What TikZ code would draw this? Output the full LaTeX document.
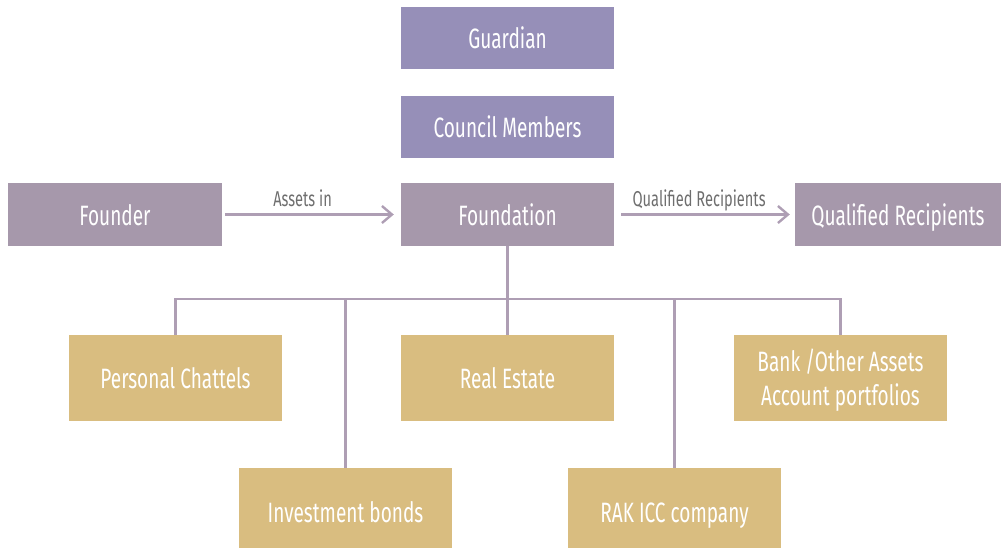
\documentclass[tikz,border=0pt]{standalone}
\usepackage{fontspec}
\setmainfont[FakeStretch=0.68]{Fira Sans}
\usetikzlibrary{arrows.meta}
\definecolor{guardpurple}{HTML}{968FB8}
\definecolor{foundmauve}{HTML}{A698AB}
\definecolor{assetgold}{HTML}{D9BD80}
\definecolor{linkmauve}{HTML}{AE9EB4}
\definecolor{labelgrey}{HTML}{6E6E6E}
\begin{document}
\begin{tikzpicture}[
		x=1pt, y=-1pt,
		box/.style={rectangle, inner sep=0pt, text=white, align=center,
			font=\fontsize{28}{33}\selectfont, minimum width=213pt},
		oneline/.style={box, text height=24pt, text depth=3pt},
		top/.style={oneline, fill=guardpurple, minimum height=62pt},
		mid/.style={oneline, fill=foundmauve, minimum height=63pt},
		asset/.style={oneline, fill=assetgold, minimum height=86pt},
		lowasset/.style={box, text height=28pt, text depth=0pt, fill=assetgold, minimum height=80pt},
		link/.style={draw=linkmauve, line width=2.4pt},
		flow/.style={link, -{Straight Barb[length=10pt, width=17pt, line width=2.4pt]}},
		flowlabel/.style={above=7pt, inner sep=0pt, text depth=0pt, text=labelgrey,
			font=\fontsize{21.5}{24}\selectfont}
	]
		\useasboundingbox (0,0) rectangle (1001,549);
		\node[top] (guard) at (507.5,38) {Guardian};
		\node[top] (council) at (507.5,127) {Council Members};
		\node[mid, minimum width=214pt] (founder) at (115,214.5) {Founder};
		\node[mid] (found) at (507.5,214.5) {Foundation};
		\node[mid, minimum width=206pt] (qual) at (898,214.5) {Qualified Recipients};
		\node[asset] (chattels) at (175.5,378) {Personal Chattels};
		\node[asset] (estate) at (507.5,378) {Real Estate};
		\node[box, fill=assetgold, minimum height=86pt] (bank) at (840.5,378) {\rule{0pt}{27pt}Bank /Other Assets\\[1pt]Account portfolios};
		\node[lowasset] (bonds) at (345.5,508) {Investment bonds};
		\node[lowasset] (rak) at (674.5,508) {RAK ICC company};
		\coordinate (bus) at (507.5,299);
		\draw[flow, shorten <=3pt, shorten >=7pt] (founder) -- node[flowlabel, pos=0.45] {Assets in} (found);
		\draw[flow, shorten <=7pt, shorten >=5pt] (found) -- node[flowlabel, pos=0.47] {Qualified Recipients} (qual);
		\draw[link] (found.south) -- (bus) -| (chattels.north);
		\draw[link] (bus) -| (bonds.north);
		\draw[link] (bus) -- (estate.north);
		\draw[link] (bus) -| (rak.north);
		\draw[link] (bus) -| (bank.north);
	\end{tikzpicture}
\end{document}
